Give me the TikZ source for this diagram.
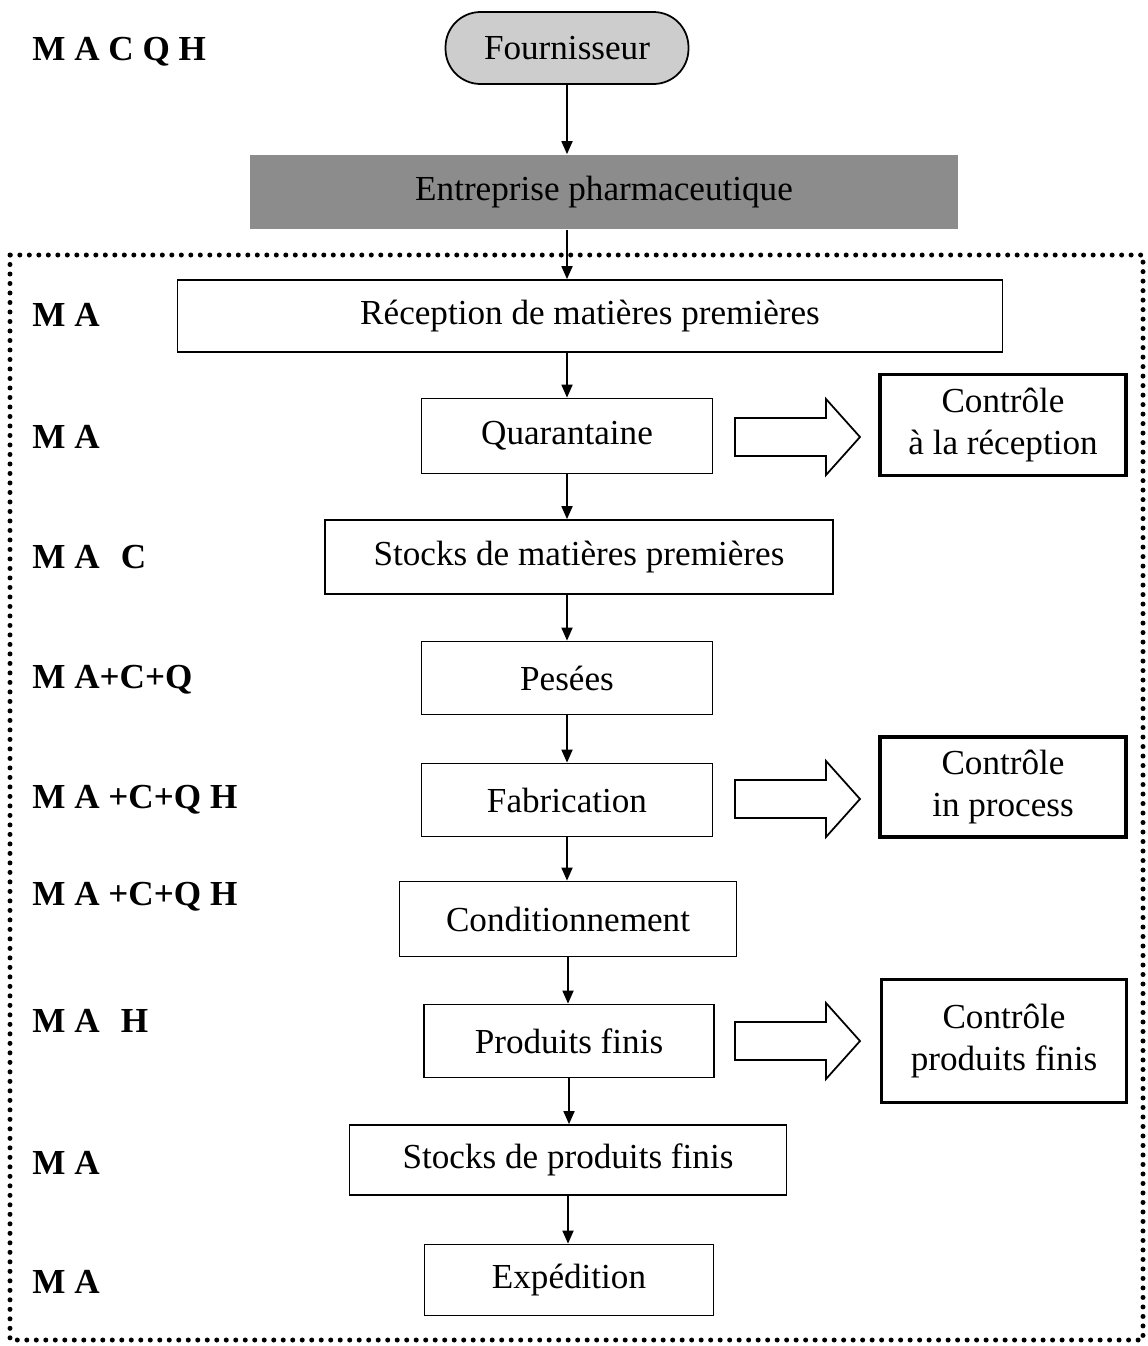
\documentclass[tikz,border=0pt]{standalone}
\usepackage{fontspec}
\setmainfont{Liberation Serif}
\usetikzlibrary{arrows.meta}

\begin{document}
\begin{tikzpicture}[x=0.02cm, y=-0.02cm,
  every node/.style={font=\fontsize{20}{24}\selectfont},
  etape/.style={draw=black, line width=1pt, minimum height=1.46cm},
  controle/.style={draw=black, line width=2.2pt, align=center, minimum width=4.92cm, minimum height=2.02cm},
  sigle/.style={anchor=west, inner sep=0pt, font=\bfseries\fontsize{20}{24}\selectfont},
  fleche/.style={-{Triangle[length=0.26cm,width=0.22cm]}, line width=1pt},
  creuse/.style={draw=black, line width=1pt, fill=white}
  ]
    % Couleurs locales
    \definecolor{grisClair}{RGB}{205, 205, 205}
    \definecolor{grisFonce}{RGB}{140, 140, 140}

    \useasboundingbox (0,0) rectangle (1147,1346);

    % En-tete
    \node[draw=black, line width=1pt, fill=grisClair, rounded corners=0.7cm,
      minimum width=4.86cm, minimum height=1.44cm] (four) at (567,48) {Fournisseur};
    \node[fill=grisFonce, minimum width=14.16cm, minimum height=1.5cm] (entr) at (604,192) {Entreprise pharmaceutique};

    % Cadre pointille
    \draw[line width=0.1cm, line cap=round, dash pattern=on 0pt off 0.19cm] (10,255) rectangle (1143,1340);

    % Etapes
    \node[etape, minimum width=16.5cm, minimum height=1.44cm] (rec) at (590,316) {Réception de matières premières};
    \node[etape, minimum width=5.82cm, minimum height=1.5cm] (quar) at (567,436) {Quarantaine};
    \node[etape, minimum width=10.16cm, minimum height=1.48cm] (stmp) at (579,557) {Stocks de matières premières};
    \node[etape, minimum width=5.82cm] (pes) at (567,678) {Pesées};
    \node[etape, minimum width=5.82cm] (fab) at (567,800) {Fabrication};
    \node[etape, minimum width=6.74cm, minimum height=1.5cm] (cond) at (568,919) {Conditionnement};
    \node[etape, minimum width=5.8cm] (pf) at (569,1041) {Produits finis};
    \node[etape, minimum width=8.74cm, minimum height=1.4cm] (spf) at (568,1160) {Stocks de produits finis};
    \node[etape, minimum width=5.78cm, minimum height=1.42cm] (exp) at (569,1280) {Expédition};

    % Controles
    \node[controle] (ctrl1) at (1003,425) {Contrôle\\à la réception};
    \node[controle, minimum height=2.0cm] (ctrl2) at (1003,787) {Contrôle\\in process};
    \node[controle, minimum width=4.9cm, minimum height=2.46cm] (ctrl3) at (1004,1041) {Contrôle\\produits finis};

    % Fleches creuses
    \foreach \c in {437,799,1041}
      \draw[creuse] (735,\c-19) -- (826,\c-19) -- (826,\c-38) -- (860,\c)
        -- (826,\c+38) -- (826,\c+19) -- (735,\c+19) -- cycle;

    % Liens
    \draw[fleche] (four.south) -- (four.south |- entr.north);
    \draw[fleche] (four.south |- entr.south) -- (four.south |- rec.north);
    \draw[fleche] (quar.north |- rec.south) -- (quar.north);
    \draw[fleche] (quar.south) -- (quar.south |- stmp.north);
    \draw[fleche] (pes.north |- stmp.south) -- (pes.north);
    \draw[fleche] (pes.south) -- (fab.north);
    \draw[fleche] (fab.south) -- (fab.south |- cond.north);
    \draw[fleche] (cond.south) -- (cond.south |- pf.north);
    \draw[fleche] (pf.south) -- (pf.south |- spf.north);
    \draw[fleche] (spf.south) -- (spf.south |- exp.north);

    % Sigles
    \node[sigle] (s0) at (32,52) {M A C Q H};
    \node[sigle] (s1) at (32,315) {M A};
    \node[sigle] (s2) at (32,437) {M A};
    \node[sigle] (s3) at (32,557) {M A\hspace{0.6em}C};
    \node[sigle] (s4) at (32,680) {M A+C+Q};
    \node[sigle] (s5) at (32,800) {M A +C+Q H};
    \node[sigle] (s6) at (32,897) {M A +C+Q H};
    \node[sigle] (s7) at (32,1021) {M A\hspace{0.6em}H};
    \node[sigle] (s8) at (32,1163) {M A};
    \node[sigle] (s9) at (32,1282) {M A};
\end{tikzpicture}
\end{document}
